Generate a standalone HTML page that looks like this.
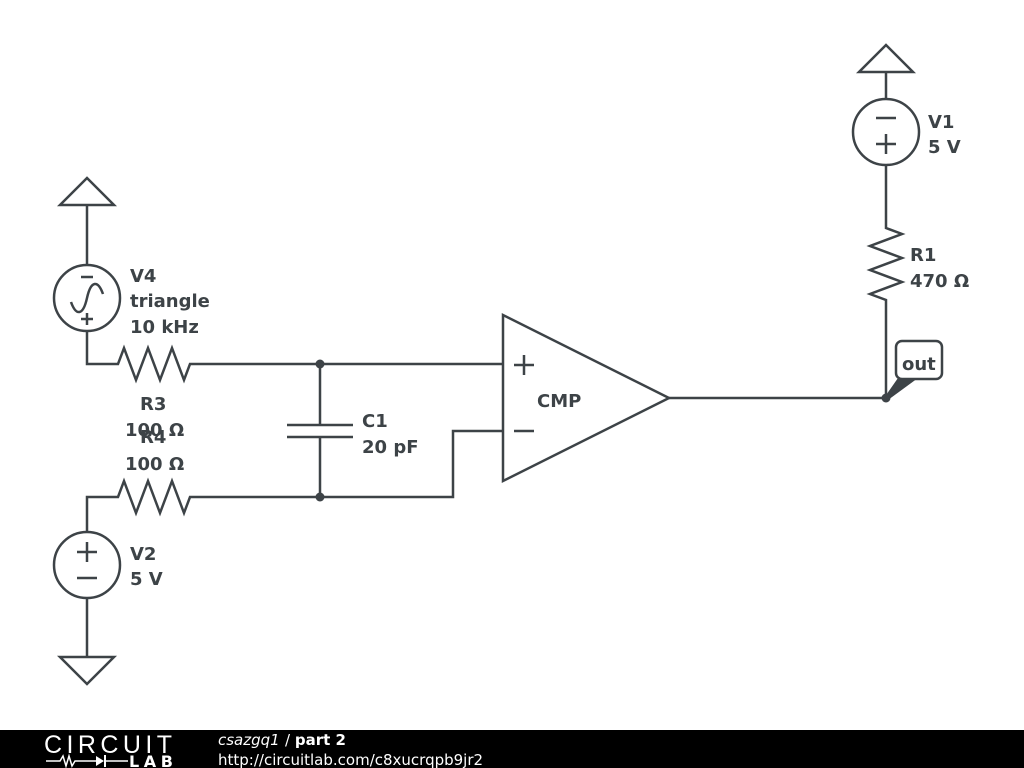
<!DOCTYPE html>
<html><head><meta charset="utf-8"><style>
html,body{margin:0;padding:0;background:#fff;width:1024px;height:768px;overflow:hidden}
svg{display:block}
text{font-family:"DejaVu Sans","Liberation Sans",sans-serif;font-weight:bold;font-size:18px;fill:#3d4347}
</style></head><body>
<svg width="1024" height="768" viewBox="0 0 1024 768">
<g stroke="#3d4347" stroke-width="2.5" fill="none" stroke-linejoin="miter">
<!-- V4 -->
<polygon points="87,178 60,205 114,205"/>
<line x1="87" y1="205" x2="87" y2="265"/>
<circle cx="87" cy="298" r="33"/>
<line x1="81" y1="277" x2="93" y2="277"/>
<line x1="81" y1="319" x2="93" y2="319"/><line x1="87" y1="313" x2="87" y2="325"/>
<path d="M71,302 C76,316 83,316 87,298 C91,280 98,280 103,294"/>
<polyline points="87,331 87,364 118,364 124,348 136,380 148,348 160,380 172,348 184,380 190,364 503,364"/>
<!-- cap -->
<line x1="320" y1="364" x2="320" y2="425"/>
<line x1="287" y1="425" x2="353" y2="425"/>
<line x1="287" y1="437" x2="353" y2="437"/>
<line x1="320" y1="437" x2="320" y2="497"/>
<!-- R4 / V2 -->
<polyline points="87,532 87,497 118,497 124,481 136,513 148,481 160,513 172,481 184,513 190,497 453,497 453,431 503,431"/>
<circle cx="87" cy="565" r="33"/>
<line x1="77" y1="552" x2="97" y2="552"/><line x1="87" y1="542" x2="87" y2="562"/>
<line x1="77" y1="578" x2="97" y2="578"/>
<line x1="87" y1="598" x2="87" y2="657"/>
<polygon points="60,657 114,657 87,684"/>
<!-- comparator -->
<polygon points="503,315 503,481 669,398"/>
<line x1="514" y1="365" x2="534" y2="365"/><line x1="524" y1="355" x2="524" y2="375"/>
<line x1="514" y1="431" x2="534" y2="431"/>
<line x1="669" y1="398" x2="886" y2="398"/>
<!-- R1 / V1 -->
<polyline points="886,398 886,300 870,294 902,282 870,270 902,258 870,246 902,234 886,228 886,166"/>
<circle cx="886" cy="132" r="33"/>
<line x1="876" y1="118" x2="896" y2="118"/>
<line x1="876" y1="144" x2="896" y2="144"/><line x1="886" y1="134" x2="886" y2="154"/>
<line x1="886" y1="99" x2="886" y2="72"/>
<polygon points="886,45 859,72 913,72"/>
<!-- out label -->
<rect x="896" y="341" width="46" height="38" rx="6"/>
</g>
<polygon points="884,398 898,378 918,378 888,400" fill="#3d4347"/>
<circle cx="320" cy="364" r="4.5" fill="#3d4347"/>
<circle cx="320" cy="497" r="4.5" fill="#3d4347"/>
<circle cx="886" cy="398" r="4.5" fill="#3d4347"/>
<text x="902" y="370">out</text>
<text x="537" y="407">CMP</text>
<text x="928" y="128">V1</text><text x="928" y="153">5 V</text>
<text x="910" y="261">R1</text><text x="910" y="287">470 Ω</text>
<text x="130" y="282">V4</text><text x="130" y="307">triangle</text><text x="130" y="333">10 kHz</text>
<text x="140" y="410">R3</text><text x="125" y="436">100 Ω</text>
<text x="140" y="443">R4</text><text x="125" y="470">100 Ω</text>
<text x="362" y="427">C1</text><text x="362" y="453">20 pF</text>
<text x="130" y="560">V2</text><text x="130" y="585">5 V</text>
<!-- footer -->
<rect x="0" y="730" width="1024" height="38" fill="#000"/>
<text x="44" y="753" style="font-weight:normal;font-size:25px;fill:#fff;font-family:'Liberation Sans',sans-serif" textLength="128">CIRCUIT</text>
<polyline points="46,761 60,761 63,756 66,766 69,756 72,766 75,761 96,761" stroke="#fff" stroke-width="1.5" fill="none"/>
<polygon points="96,756 96,766 104,761" fill="#fff"/><line x1="105" y1="755" x2="105" y2="767" stroke="#fff" stroke-width="2"/>
<line x1="105" y1="761" x2="128" y2="761" stroke="#fff" stroke-width="1.5"/>
<text x="129" y="767" style="font-size:16px;fill:#fff" textLength="44">LAB</text>
<text x="218" y="745" style="font-size:15px;fill:#fff;font-weight:normal;font-style:italic">csazgq1</text>
<text x="285" y="745" style="font-size:15px;fill:#fff;font-weight:normal">/ <tspan font-weight="bold">part 2</tspan></text>
<text x="218" y="765" style="font-size:15px;fill:#fff;font-weight:normal">http://circuitlab.com/c8xucrqpb9jr2</text>
</svg>
</body></html>
